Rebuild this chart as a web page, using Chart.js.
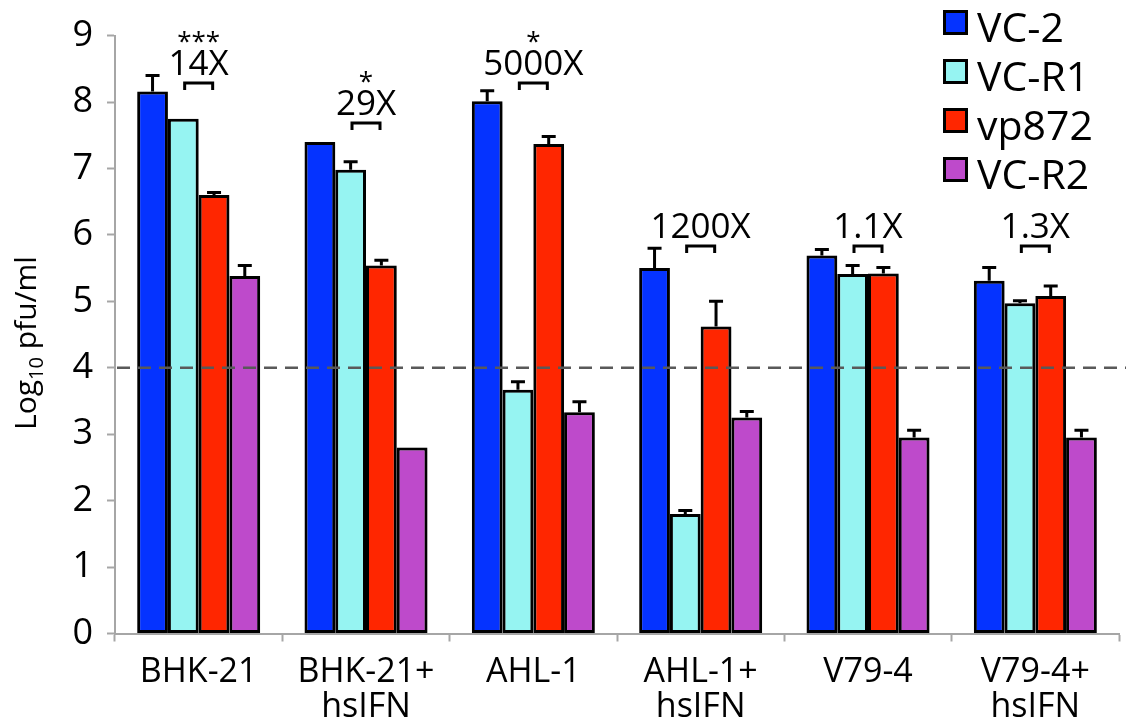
<!DOCTYPE html>
<html>
<head>
<meta charset="utf-8">
<script src="https://cdn.jsdelivr.net/npm/chart.js@4.4.0/dist/chart.umd.min.js"></script>
<style>
  html, body { margin: 0; padding: 0; background: #ffffff; }
  #wrap { width: 1126px; height: 727px; position: relative; }
</style>
</head>
<body>
<div id="wrap"><canvas id="chart"></canvas></div>
<script>
// Cell lines (x categories)
const categories = [['BHK-21'], ['BHK-21+', 'hsIFN'], ['AHL-1'], ['AHL-1+', 'hsIFN'], ['V79-4'], ['V79-4+', 'hsIFN']];

// Virus strains
const seriesNames = ['VC-2', 'VC-R1', 'vp872', 'VC-R2'];

// Mean titres, log10 pfu/ml
const vc2   = [8.16, 7.40, 8.01, 5.50, 5.69, 5.31];
const vcR1  = [7.75, 6.98, 3.67, 1.80, 5.41, 4.97];
const vp872 = [6.60, 5.54, 7.37, 4.62, 5.42, 5.08];
const vcR2  = [5.38, 2.80, 3.33, 3.25, 2.95, 2.95];

// Upper error (SD), log10 pfu/ml
const vc2Err   = [0.24, 0.00, 0.16, 0.30, 0.09, 0.20];
const vcR1Err  = [0.00, 0.12, 0.12, 0.05, 0.13, 0.04];
const vp872Err = [0.04, 0.08, 0.11, 0.38, 0.09, 0.15];
const vcR2Err  = [0.16, 0.00, 0.16, 0.09, 0.11, 0.11];

// Fold difference VC-R1 vs vp872, significance, and bracket level (log10)
const foldLabels = ['14X', '29X', '5000X', '1200X', '1.1X', '1.3X'];
const foldStars  = ['***', '*', '*', '', '', ''];
const bracketY   = [8.285, 7.684, 8.285, 5.832, 5.832, 5.832];

// Detection limit
const detectionLimit = 4;

// Axis range
const yMin = 0, yMax = 9, yStep = 1;

const FONT = '"Open Sans", "Noto Sans", sans-serif';
const colors = ['#0533FF', '#96F4F2', '#FF2600', '#BE4ACB'];
const AXIS_GREY = '#A6A6A6';

const seriesValues = [vc2, vcR1, vp872, vcR2];
const seriesErrors = [vc2Err, vcR1Err, vp872Err, vcR2Err];

const figurePlugin = {
  id: 'figureExtras',
  beforeDatasetsDraw(chart) {
    const ctx = chart.ctx;
    ctx.save();
    ctx.shadowColor = 'rgba(0,0,0,0.25)';
    ctx.shadowBlur = 4;
    ctx.shadowOffsetX = 2;
    ctx.shadowOffsetY = 1;
  },
  afterDatasetsDraw(chart) {
    const ctx = chart.ctx;
    ctx.restore();
    const ys = chart.scales.y;
    const xs = chart.scales.x;
    const area = chart.chartArea;

    // error bars (upper only)
    chart.data.datasets.forEach((ds, di) => {
      const meta = chart.getDatasetMeta(di);
      meta.data.forEach((bar, i) => {
        const e = ds.errors[i];
        if (!e) return;
        const top = ys.getPixelForValue(ds.data[i] + e);
        ctx.save();
        ctx.strokeStyle = '#000';
        ctx.lineWidth = 3;
        ctx.beginPath();
        ctx.moveTo(bar.x, bar.y);
        ctx.lineTo(bar.x, top);
        ctx.moveTo(bar.x - 7, top);
        ctx.lineTo(bar.x + 7, top);
        ctx.stroke();
        ctx.restore();
      });
    });

    // detection limit
    const yl = ys.getPixelForValue(detectionLimit);
    ctx.save();
    ctx.strokeStyle = '#595959';
    ctx.lineWidth = 2.5;
    ctx.setLineDash([13, 8]);
    ctx.beginPath();
    ctx.moveTo(area.left + 2, yl);
    ctx.lineTo(chart.width, yl);
    ctx.stroke();
    ctx.restore();

    // brackets with fold labels and significance
    foldLabels.forEach((lab, i) => {
      const cx = xs.getPixelForValue(i);
      const by = ys.getPixelForValue(bracketY[i]);
      ctx.save();
      ctx.strokeStyle = '#000';
      ctx.lineWidth = 3;
      ctx.lineJoin = 'miter';
      ctx.beginPath();
      ctx.moveTo(cx - 14, by + 7);
      ctx.lineTo(cx - 14, by);
      ctx.lineTo(cx + 14, by);
      ctx.lineTo(cx + 14, by + 7);
      ctx.stroke();
      ctx.fillStyle = '#000';
      ctx.textAlign = 'center';
      ctx.textBaseline = 'alphabetic';
      ctx.font = '35px ' + FONT;
      const base = by - 8;
      ctx.fillText(lab, cx, base);
      if (foldStars[i]) {
        ctx.font = '26px ' + FONT;
        ctx.fillText(foldStars[i], cx, base - 25);
      }
      ctx.restore();
    });
  },
  afterDraw(chart) {
    const ctx = chart.ctx;

    // legend
    const lx = 943, rowTop = 10, rowGap = 49, sq = 25;
    chart.data.datasets.forEach((ds, i) => {
      const top = rowTop + i * rowGap;
      ctx.save();
      ctx.fillStyle = '#000';
      ctx.fillRect(lx, top, sq, sq);
      ctx.fillStyle = ds.backgroundColor;
      ctx.fillRect(lx + 3, top + 3, sq - 6, sq - 6);
      ctx.fillStyle = '#000';
      ctx.font = '41px ' + FONT;
      ctx.textAlign = 'left';
      ctx.textBaseline = 'alphabetic';
      ctx.fillText(ds.label, lx + 34, top + 31.5);
      ctx.restore();
    });

    // y-axis title with subscript
    const main = '30px ' + FONT, sub = '20px ' + FONT;
    ctx.save();
    ctx.font = main;
    const wLog = ctx.measureText('Log').width;
    const wRest = ctx.measureText(' pfu/ml').width;
    ctx.font = sub;
    const wSub = ctx.measureText('10').width;
    const total = wLog + wSub + wRest;
    ctx.translate(36, 343);
    ctx.rotate(-Math.PI / 2);
    ctx.fillStyle = '#000';
    ctx.textAlign = 'left';
    ctx.textBaseline = 'alphabetic';
    let x0 = -total / 2;
    ctx.font = main;
    ctx.fillText('Log', x0, 0);
    x0 += wLog;
    ctx.font = sub;
    ctx.fillText('10', x0, 7);
    x0 += wSub;
    ctx.font = main;
    ctx.fillText(' pfu/ml', x0, 0);
    ctx.restore();
  }
};

const datasets = seriesNames.map((name, i) => ({
  label: name,
  data: seriesValues[i],
  errors: seriesErrors[i],
  backgroundColor: colors[i],
  borderColor: '#000000',
  borderWidth: 3,
  borderSkipped: false,
  categoryPercentage: 0.735,
  barPercentage: 1.0
}));

new Chart(document.getElementById('chart'), {
  type: 'bar',
  data: { labels: categories, datasets },
  plugins: [figurePlugin],
  options: {
    responsive: true,
    maintainAspectRatio: false,
    animation: false,
    devicePixelRatio: 1,
    layout: { padding: { top: 35.5, right: 7, left: 0, bottom: 0 } },
    plugins: {
      legend: { display: false },
      tooltip: { enabled: false },
      title: { display: false }
    },
    scales: {
      x: {
        grid: {
          display: true,
          drawOnChartArea: false,
          drawTicks: true,
          tickLength: 8,
          tickColor: AXIS_GREY,
          tickWidth: 2,
          offset: true
        },
        border: { display: true, color: AXIS_GREY, width: 2 },
        ticks: {
          color: '#000',
          font: { family: FONT, size: 34, lineHeight: 1.03 },
          padding: 13,
          maxRotation: 0,
          autoSkip: false
        },
        afterFit(scale) { scale.height = 93.5; }
      },
      y: {
        min: yMin,
        max: yMax,
        grid: {
          display: true,
          drawOnChartArea: false,
          drawTicks: true,
          tickLength: 8,
          tickColor: AXIS_GREY,
          tickWidth: 2
        },
        border: { display: true, color: AXIS_GREY, width: 2 },
        ticks: {
          stepSize: yStep,
          color: '#000',
          font: { family: FONT, size: 36 },
          padding: 14
        },
        afterFit(scale) { scale.width = 115; }
      }
    }
  }
});
</script>
</body>
</html>
